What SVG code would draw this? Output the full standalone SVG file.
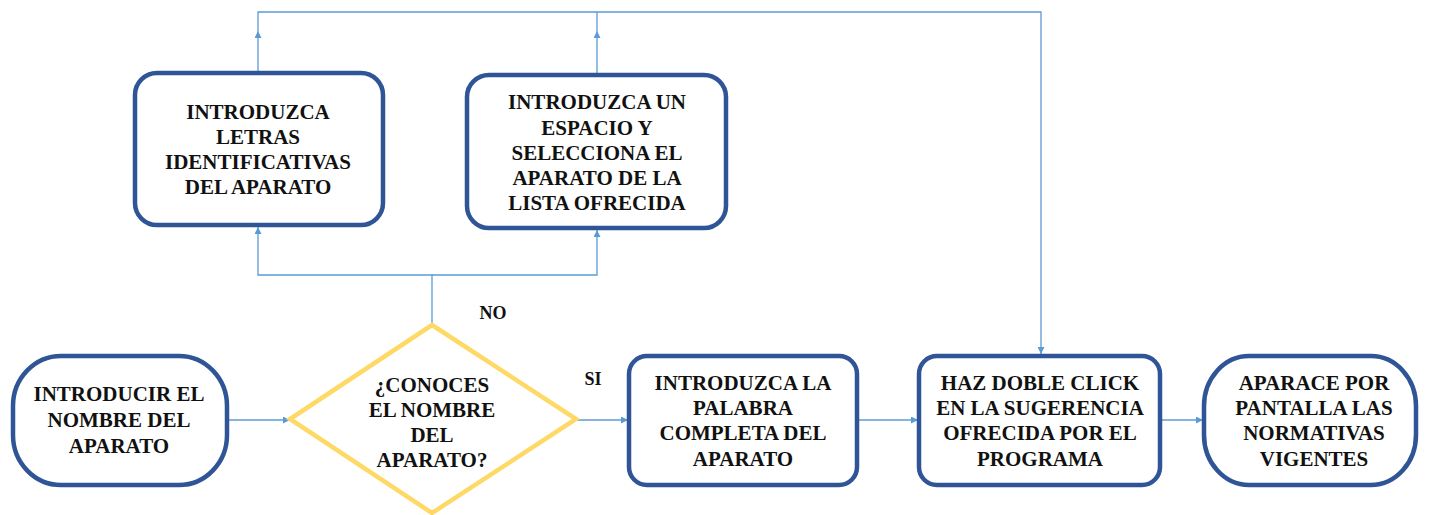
<svg xmlns="http://www.w3.org/2000/svg" width="1433" height="515" viewBox="0 0 1433 515">
<defs>
<style>
.box{fill:#fff;stroke:#2F5597;stroke-width:4.5}
.dia{fill:#fff;stroke:#FFD966;stroke-width:4.5}
.con{fill:none;stroke:#5B9BD5;stroke-width:1.3}
.t text{font-weight:bold;font-size:21px;fill:#111;text-anchor:middle}
</style>
<marker id="arr" viewBox="0 0 10 10" refX="10" refY="5" markerWidth="7" markerHeight="7" markerUnits="userSpaceOnUse" orient="auto">
<path d="M0,0 L10,5 L0,10 z" fill="#5B9BD5"/>
</marker>
</defs>
<rect width="1433" height="515" fill="#fff"/>
<g id="connectors">
<path class="con" d="M227,420 H290" marker-end="url(#arr)"/>
<path class="con" d="M577,420 H628" marker-end="url(#arr)"/>
<path class="con" d="M858,420 H918" marker-end="url(#arr)"/>
<path class="con" d="M1161,420 H1203" marker-end="url(#arr)"/>
<path class="con" d="M432,325 V275 H258 V227" marker-end="url(#arr)"/>
<path class="con" d="M432,275 H597 V230" marker-end="url(#arr)"/>
<path class="con" d="M258,72 V31" marker-end="url(#arr)"/>
<path class="con" d="M597,74 V31" marker-end="url(#arr)"/>
<path class="con" d="M258,31 V12 H1041 V354" marker-end="url(#arr)"/>
<path class="con" d="M597,31 V12"/>
</g>
<g class="t" font-family="Liberation Serif, Times New Roman, serif">
<g id="n1">
<rect class="box" x="13" y="356" width="214" height="129" rx="48" ry="50"/>
<text x="119" y="401">INTRODUCIR EL</text>
<text x="119" y="427">NOMBRE DEL</text>
<text x="119" y="453">APARATO</text>
</g>
<g id="decision">
<polygon class="dia" points="432,325 576,419 432,513 290,419"/>
<text x="432" y="392">¿CONOCES</text>
<text x="432" y="417">EL NOMBRE</text>
<text x="432" y="442">DEL</text>
<text x="432" y="467">APARATO?</text>
</g>
<g id="lblNO"><text x="493" y="319" style="font-size:18px">NO</text></g>
<g id="lblSI"><text x="593" y="385" style="font-size:18px">SI</text></g>
<g id="n2">
<rect class="box" x="135" y="73" width="248" height="152" rx="22"/>
<text x="258" y="119">INTRODUZCA</text>
<text x="258" y="144">LETRAS</text>
<text x="258" y="169">IDENTIFICATIVAS</text>
<text x="258" y="194">DEL APARATO</text>
</g>
<g id="n3">
<rect class="box" x="467" y="75" width="259" height="153" rx="22"/>
<text x="597" y="109">INTRODUZCA UN</text>
<text x="597" y="135">ESPACIO Y</text>
<text x="597" y="160">SELECCIONA EL</text>
<text x="597" y="185">APARATO DE LA</text>
<text x="597" y="210">LISTA OFRECIDA</text>
</g>
<g id="n4">
<rect class="box" x="629" y="356" width="228" height="129" rx="18"/>
<text x="743" y="390">INTRODUZCA LA</text>
<text x="743" y="415">PALABRA</text>
<text x="743" y="440">COMPLETA DEL</text>
<text x="743" y="466">APARATO</text>
</g>
<g id="n5">
<rect class="box" x="919" y="356" width="241" height="129" rx="18"/>
<text x="1040" y="390">HAZ DOBLE CLICK</text>
<text x="1040" y="415">EN LA SUGERENCIA</text>
<text x="1040" y="440">OFRECIDA POR EL</text>
<text x="1040" y="466">PROGRAMA</text>
</g>
<g id="n6">
<rect class="box" x="1204" y="356" width="212" height="129" rx="45" ry="50"/>
<text x="1314" y="390">APARACE POR</text>
<text x="1314" y="415">PANTALLA LAS</text>
<text x="1314" y="440">NORMATIVAS</text>
<text x="1314" y="466">VIGENTES</text>
</g>
</g>
</svg>
